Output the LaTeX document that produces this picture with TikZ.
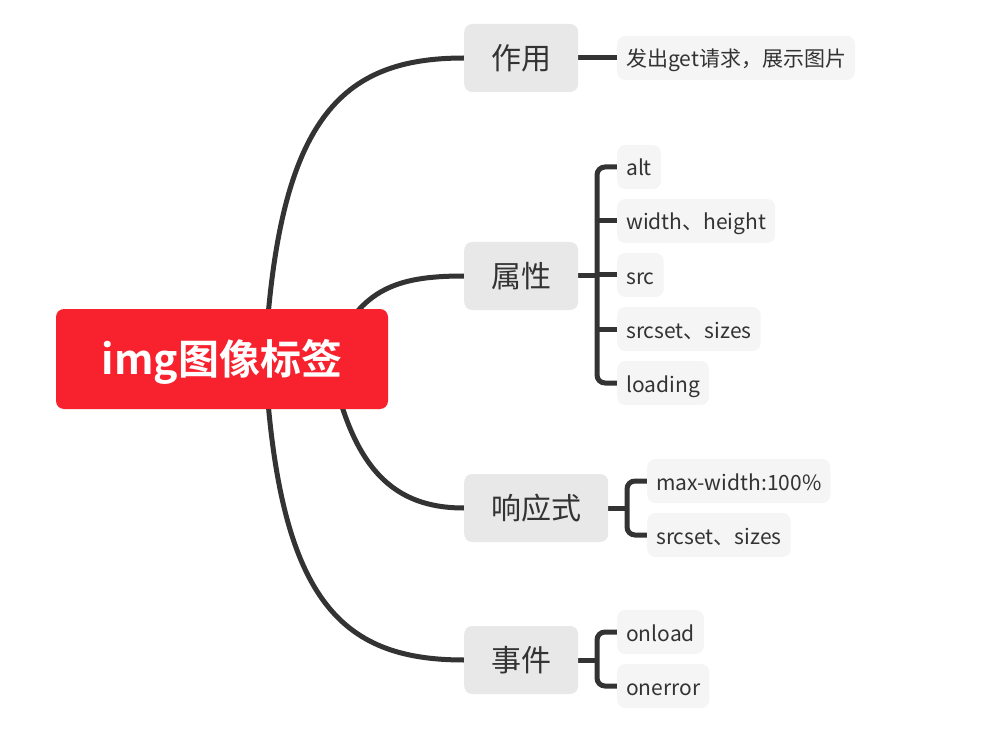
\documentclass[tikz,border=0pt]{standalone}
\usepackage{fontspec}
\setmainfont{Noto Sans CJK SC}[BoldFont={Noto Sans CJK SC Bold}]
\usepackage{tikz}
\usetikzlibrary{positioning, backgrounds, calc}
\definecolor{mainred}{HTML}{F8222F}
\definecolor{branchgray}{HTML}{E8E8E8}
\definecolor{leafgray}{HTML}{F5F5F5}
\definecolor{linegray}{HTML}{333333}

\begin{document}
\begin{tikzpicture}[x=1pt, y=-1pt,
  topic/.style={rectangle, rounded corners=8pt, text=linegray, align=center},
  root/.style={topic, fill=mainred, text=white, minimum width=332pt,
               minimum height=100pt, text height=35pt, text depth=5pt,
               font=\fontsize{41}{41}\selectfont\bfseries},
  branch/.style={topic, fill=branchgray, minimum height=68pt, inner xsep=27pt,
                 text height=26pt, text depth=3pt,
                 anchor=west, font=\fontsize{30}{30}\selectfont},
  leaf/.style={topic, fill=leafgray, minimum height=44pt, inner xsep=9pt,
               text height=19pt, text depth=1pt,
               anchor=west, font=\fontsize{21}{21}\selectfont},
  ln/.style={draw=linegray, line width=5pt},
  brk/.style={ln, rounded corners=8pt}
]
  \useasboundingbox (0,0) rectangle (983,746);

  % central topic
  \node[root] (img) at (222,359) {img图像标签};

  % main branches
  \node[branch] (zy) at (464,58)  {作用};
  \node[branch] (sx) at (464,276) {属性};
  \node[branch] (xy) at (464,508) {响应式};
  \node[branch] (sj) at (464,660) {事件};

  % leaves
  \node[leaf] (zy1) at (617,58)  {发出get请求，展示图片};

  \node[leaf] (sx1) at (617,167) {alt};
  \node[leaf] (sx2) at (617,221) {width、height};
  \node[leaf] (sx3) at (617,275) {src};
  \node[leaf] (sx4) at (617,329) {srcset、sizes};
  \node[leaf] (sx5) at (617,383) {loading};

  \node[leaf] (xy1) at (647,481) {max-width:100\%};
  \node[leaf] (xy2) at (647,535) {srcset、sizes};

  \node[leaf] (sj1) at (617,632) {onload};
  \node[leaf] (sj2) at (617,686) {onerror};

  \begin{scope}[on background layer]
    \draw[ln] ($(img.center)+(43,0)$) .. controls +(13,-240) and +(-124,0) .. (zy.west);
    \draw[ln] ($(img.center)+(108,0)$) .. controls +(28,-69) and +(-70,0) .. (sx.west);
    \draw[ln] ($(img.center)+(108,0)$) .. controls +(22,111) and +(-70,0) .. (xy.west);
    \draw[ln] ($(img.center)+(43,0)$) .. controls +(13,241) and +(-124,0) .. (sj.west);

    \draw[ln] (zy.east) -- (zy1.west);

    \draw[ln] (sx.east) -- ++(20,0);
    \draw[brk] (sx1.west) -- ++(-20,0) |- (sx5.west);
    \foreach \i in {2,3,4}
      \draw[ln] (sx\i.west) -- ++(-20,0);

    \draw[ln] (xy.east) -- ++(20,0);
    \draw[brk] (xy1.west) -- ++(-20,0) |- (xy2.west);

    \draw[ln] (sj.east) -- ++(20,0);
    \draw[brk] (sj1.west) -- ++(-20,0) |- (sj2.west);
  \end{scope}
\end{tikzpicture}
\end{document}
